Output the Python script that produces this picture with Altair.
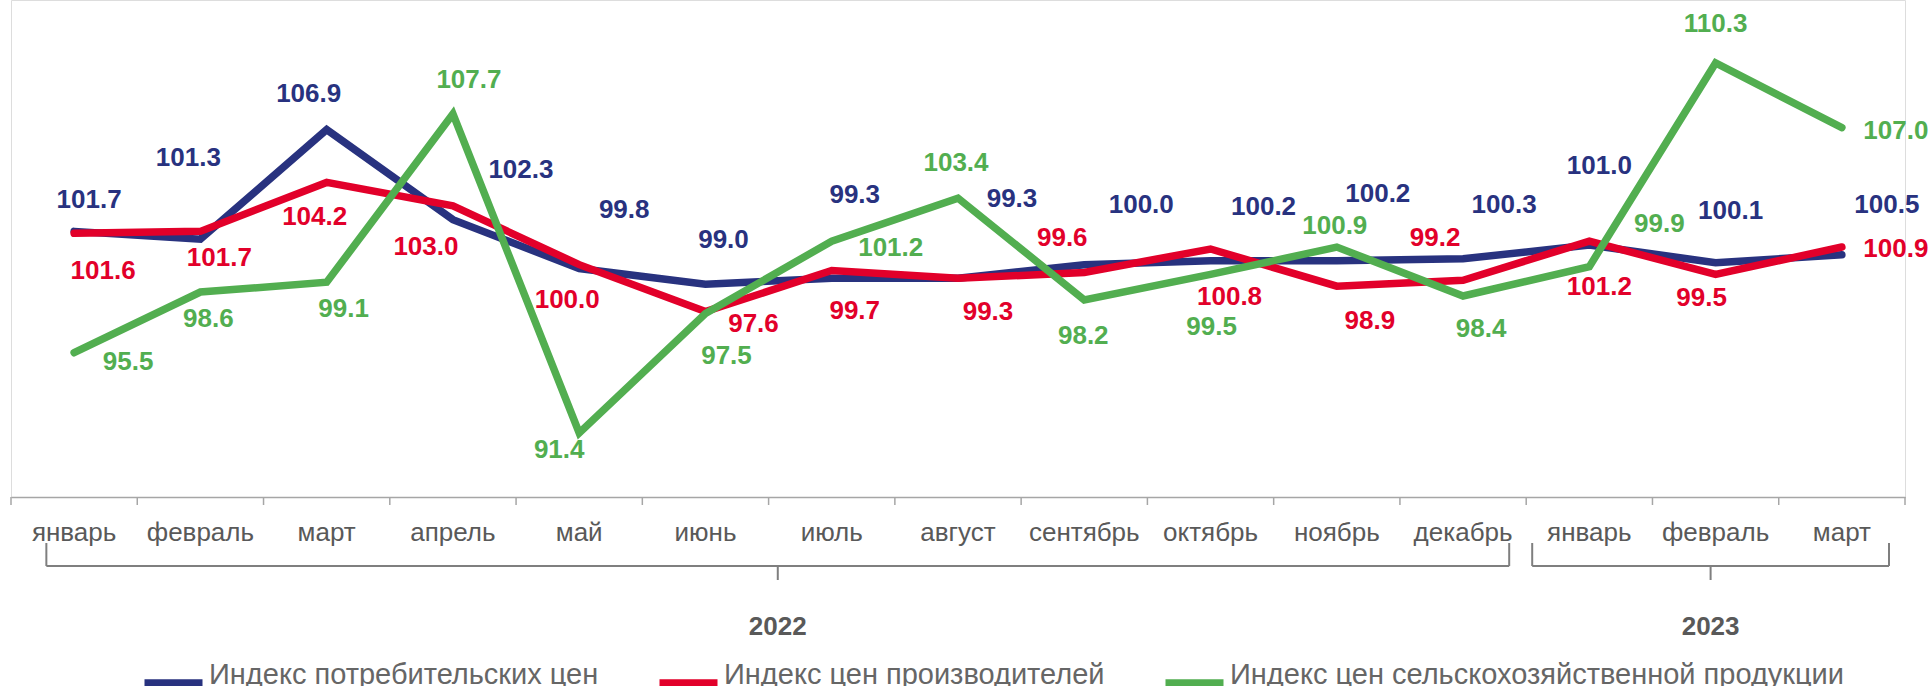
import altair as alt
import pandas as pd

# ---- data ----
months = ["январь", "февраль", "март", "апрель", "май", "июнь", "июль", "август",
          "сентябрь", "октябрь", "ноябрь", "декабрь", "январь", "февраль", "март"]
years = [2022] * 12 + [2023] * 3
cpi = [101.7, 101.3, 106.9, 102.3, 99.8, 99.0, 99.3, 99.3, 100.0, 100.2, 100.2, 100.3, 101.0, 100.1, 100.5]
ppi = [101.6, 101.7, 104.2, 103.0, 100.0, 97.6, 99.7, 99.3, 99.6, 100.8, 98.9, 99.2, 101.2, 99.5, 100.9]
agri = [95.5, 98.6, 99.1, 107.7, 91.4, 97.5, 101.2, 103.4, 98.2, 99.5, 100.9, 98.4, 99.9, 110.3, 107.0]
series_names = ["Индекс потребительских цен", "Индекс цен производителей",
                "Индекс цен сельскохозяйственной продукции"]
year_labels = ["2022", "2023"]

# ---- styling / layout (not data) ----
colors = ["#28327f", "#e2002a", "#52ae50"]
GRAY = "#595959"
FONT = "Liberation Sans"
W, H = 1894, 497
PAD_L, PAD_T, PAD_R, PAD_B = 11, 0, 26, 189
BW = W / len(months)
Y0, Y1 = 88.13, 113.52
UNIT_PER_PX = (Y1 - Y0) / H

# label offsets in px (dx, dy) per series
cpi_dx = [15, -12, -18, 68, 45, 18, 23, 54, 57, 53, 41, 41, 10, 15, 45]
cpi_dy = [-31, -81, -36, -50, -59, -44, -83, -79, -60, -54, -67, -54, -79, -52, -50]
ppi_dx = [29, 19, -12, -27, -12, 48, 23, 30, -22, 19, 33, -28, 10, -14, 54]
ppi_dy = [38, 27, 35, 41, 35, 12, 40, 34, -34, 48, 35, -42, 46, 24, 2]
agri_dx = [54, 8, 17, 16, -20, 21, 59, -2, -1, 1, -2, 18, 70, 0, 54]
agri_dy = [9, 27, 27, -34, 17, 42, 7, -35, 36, 53, -21, 33, -43, -39, 3]

keys = [f"{m} {y}" for m, y in zip(months, years)]

rows = []
for name, vals, dxs, dys in zip(series_names, [cpi, ppi, agri],
                                [cpi_dx, ppi_dx, agri_dx], [cpi_dy, ppi_dy, agri_dy]):
    for k, v, dx, dy in zip(keys, vals, dxs, dys):
        rows.append({"key": k, "series": name, "value": v, "label": f"{v:.1f}", "dx": dx, "dy": dy})
df = pd.DataFrame(rows)

xscale = alt.Scale(type="band", domain=keys, paddingInner=0, paddingOuter=0)
yscale = alt.Scale(domain=[Y0, Y1], zero=False, nice=False)
cscale = alt.Scale(domain=series_names, range=colors)

xaxis = alt.Axis(title=None, labelExpr="split(datum.label, ' ')[0]", ticks=False,
                 domain=True, domainColor="#a6a6a6", domainWidth=1.5,
                 labelFontSize=26, labelColor=GRAY, labelFont=FONT, labelAngle=0,
                 labelBaseline="middle", labelPadding=35, labelOverlap=False,
                 labelBound=False, grid=False)

base = alt.Chart(df)

lines = base.mark_line(strokeWidth=7.5, strokeCap="round", strokeJoin="miter").encode(
    x=alt.X("key:N", scale=xscale, axis=xaxis, bandPosition=0.5),
    y=alt.Y("value:Q", scale=yscale, axis=None),
    color=alt.Color("series:N", scale=cscale, sort=series_names,
                    legend=alt.Legend(title=None, orient="none", legendX=129, legendY=650,
                                      direction="horizontal", symbolType="stroke",
                                      symbolStrokeWidth=9, symbolSize=3364,
                                      labelFontSize=29, labelColor="#666666", labelFont=FONT,
                                      labelBaseline="alphabetic",
                                      labelOffset=2, columnPadding=42, labelLimit=1000)),
    detail="series:N",
)

labels = base.transform_calculate(
    xo=f"datum.dx + {BW / 2}",
    ylab=f"datum.value - datum.dy * {UNIT_PER_PX}",
).mark_text(fontSize=26, fontWeight="bold", font=FONT,
            align="center", baseline="middle").encode(
    x=alt.X("key:N", scale=xscale),
    y=alt.Y("ylab:Q", scale=yscale),
    xOffset=alt.XOffset("xo:Q", scale=None),
    text="label:N",
    color=alt.Color("series:N", scale=cscale, legend=None),
)

tick_df = pd.DataFrame({"key": keys})
ticks = alt.Chart(tick_df).mark_rule(color="#a6a6a6", strokeWidth=1.5).encode(
    x=alt.X("key:N", scale=xscale, bandPosition=0),
    y=alt.value(H), y2=alt.value(H + 8),
)
end_tick = alt.Chart(tick_df.head(1)).mark_rule(color="#a6a6a6", strokeWidth=1.5).encode(
    x=alt.value(W), y=alt.value(H), y2=alt.value(H + 8),
)

one = pd.DataFrame({"a": [0]})


def seg(x1, y1, x2, y2):
    return alt.Chart(one).mark_rule(color="#7f7f7f", strokeWidth=2).encode(
        x=alt.value(x1), x2=alt.value(x2), y=alt.value(y1), y2=alt.value(y2))


def bracket(xl, xr, ytop=543, ybar=566, ybot=580):
    xc = (xl + xr) / 2
    return [seg(xl, ytop, xl, ybar), seg(xl, ybar, xr, ybar), seg(xr, ytop, xr, ybar),
            seg(xc, ybar, xc, ybot)]


brackets = bracket(0.28 * BW, 12 * BW - 17) + bracket(12 * BW + 6, 15 * BW - 16)


def year_text(txt, xc):
    return alt.Chart(one).mark_text(fontSize=26, fontWeight="bold", font=FONT, color=GRAY,
                                    align="center", baseline="middle").encode(
        x=alt.value(xc), y=alt.value(627), text=alt.value(txt))


years_txt = [year_text(year_labels[0], (0.28 * BW + 12 * BW - 17) / 2),
             year_text(year_labels[1], (12 * BW + 6 + 15 * BW - 16) / 2)]

chart = alt.layer(lines, labels, ticks, end_tick, *brackets, *years_txt).properties(
    width=W, height=H,
    padding={"left": PAD_L, "top": PAD_T, "right": PAD_R, "bottom": PAD_B},
    autosize=alt.AutoSizeParams(type="none"),
).configure_view(stroke=None).configure(background="white").configure_legend(
    symbolStrokeWidth=9)

chart.save("out.html", embed_options={"renderer": "svg", "actions": False})
